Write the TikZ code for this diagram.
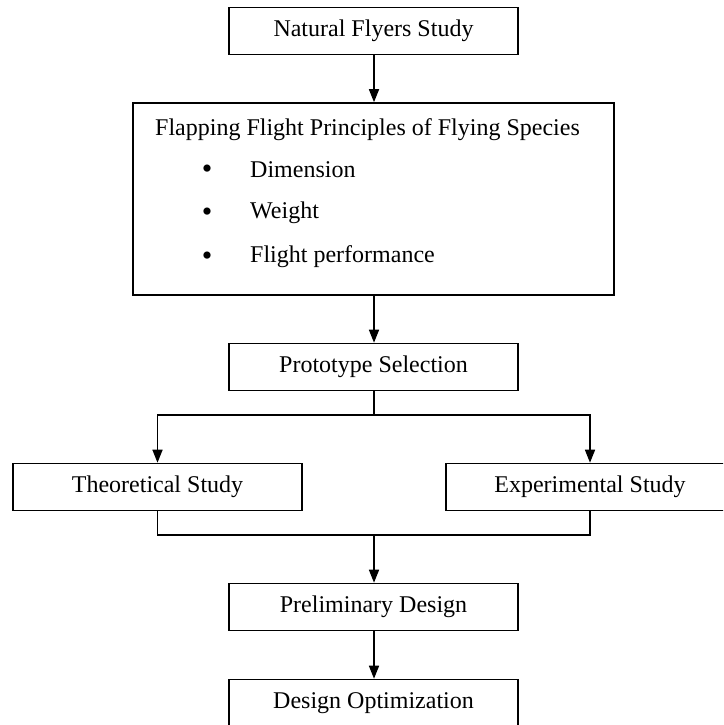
\documentclass[tikz,border=0pt]{standalone}
\usepackage{fontspec}
\setmainfont{Liberation Serif}
\usetikzlibrary{arrows.meta}
\begin{document}
\begin{tikzpicture}[x=1pt,y=-1pt,
  box/.style={draw,line width=1.6pt,rectangle,inner sep=0pt,minimum width=289pt,minimum height=47pt,font=\fontsize{24}{28}\selectfont},
  txt/.style={inner sep=0pt,font=\fontsize{24}{28}\selectfont},
  dot/.style={inner sep=0pt,font=\fontsize{30}{34}\selectfont},
  arr/.style={line width=1.6pt,-{Triangle[length=13pt,width=10pt]}},
  ln/.style={line width=1.6pt}]
\useasboundingbox (0,0) rectangle (723,725);
\clip (0,0) rectangle (723,725);
\node[box] (n1) at (373.5,31) {Natural Flyers Study};
\node[box,minimum width=481pt,minimum height=192pt] (n2) at (373.5,199) {};
\node[txt,anchor=west] (t0) at (155,130) {Flapping Flight Principles of Flying Species};
\node[dot] (d1) at (207,172) {•};
\node[dot] (d2) at (207,215) {•};
\node[dot] (d3) at (207,259) {•};
\node[txt,anchor=west] (i1) at (250,170) {Dimension};
\node[txt,anchor=west] (i2) at (250,213) {Weight};
\node[txt,anchor=west] (i3) at (250,257) {Flight performance};
\node[box] (n3) at (373.5,367) {Prototype Selection};
\node[box] (th) at (157.5,487) {Theoretical Study};
\node[box,minimum width=288pt] (ex) at (590,487) {Experimental Study};
\node[box] (pd) at (373.5,607) {Preliminary Design};
\node[box] (op) at (373.5,703) {Design Optimization};
\coordinate (j1) at (374,415);
\coordinate (j2) at (374,535);
\draw[arr] (n1.south -| j1) -- (n2.north -| j1);
\draw[arr] (n2.south -| j1) -- (n3.north -| j1);
\draw[ln] (n3.south -| j1) -- (j1);
\draw[arr] (j1) -| (th.north);
\draw[arr] (j1) -| (ex.north);
\draw[ln] (th.south) |- (j2);
\draw[ln] (ex.south) |- (j2);
\draw[arr] (j2) -- (pd.north -| j2);
\draw[arr] (pd.south -| j2) -- (op.north -| j2);
\end{tikzpicture}
\end{document}
